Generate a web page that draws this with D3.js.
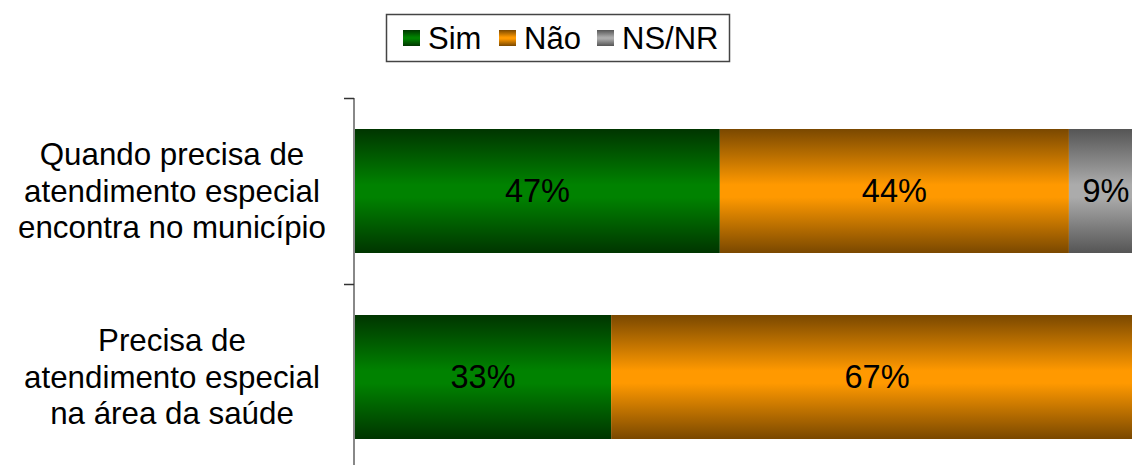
<!DOCTYPE html>
<html>
<head>
<meta charset="utf-8">
<script src="https://cdn.jsdelivr.net/npm/d3@7"></script>
<style>
  html, body { margin: 0; padding: 0; background: #fff; overflow: hidden; }
  svg { display: block; font-family: "Liberation Sans", Arial, sans-serif; }
</style>
</head>
<body>
<svg id="chart" width="1132" height="465"></svg>
<script>
// ---- data ----
const categories = [
  ["Quando precisa de", "atendimento especial", "encontra no município"],
  ["Precisa de", "atendimento especial", "na área da saúde"]
];
const seriesNames = ["Sim", "Não", "NS/NR"];
const simValues  = [46.3, 32.5];
const naoValues  = [44.3, 67.5];
const nsnrValues = [9.4, 0];
const simLabels  = ["47%", "33%"];
const naoLabels  = ["44%", "67%"];
const nsnrLabels = ["9%", ""];

// ---- build ----
const svg = d3.select("#chart");
const colors = {
  "Sim":   { edge: "#003500", mid: "#008200" },
  "Não":   { edge: "#7a4800", mid: "#ff9900" },
  "NS/NR": { edge: "#555555", mid: "#ababab" }
};
const defs = svg.append("defs");
seriesNames.forEach((s, i) => {
  const g = defs.append("linearGradient")
    .attr("id", "grad" + i).attr("x1", 0).attr("y1", 0).attr("x2", 0).attr("y2", 1);
  g.append("stop").attr("offset", "0%").attr("stop-color", colors[s].edge);
  g.append("stop").attr("offset", "45%").attr("stop-color", colors[s].mid);
  g.append("stop").attr("offset", "55%").attr("stop-color", colors[s].mid);
  g.append("stop").attr("offset", "100%").attr("stop-color", colors[s].edge);
});

const x = d3.scaleLinear().domain([0, 100]).range([355, 1143]);
const y = d3.scaleBand().domain(d3.range(categories.length)).range([98, 470]).padding(0);
const bw = y.bandwidth();
const barH = bw * 2 / 3;

const rows = categories.map((c, i) => {
  const vals = [simValues[i], naoValues[i], nsnrValues[i]];
  const labs = [simLabels[i], naoLabels[i], nsnrLabels[i]];
  let acc = 0;
  return vals.map((v, j) => {
    const seg = { row: i, s: j, x0: acc, x1: acc + v, label: labs[j] };
    acc += v;
    return seg;
  }).filter(d => d.x1 > d.x0);
});

const segs = rows.flat();
svg.append("g").selectAll("rect").data(segs).join("rect")
  .attr("x", d => x(d.x0))
  .attr("width", d => x(d.x1) - x(d.x0))
  .attr("y", d => y(d.row) + (bw - barH) / 2)
  .attr("height", barH)
  .attr("fill", d => `url(#grad${d.s})`);

svg.append("g").selectAll("text").data(segs).join("text")
  .attr("x", d => (x(d.x0) + x(d.x1)) / 2)
  .attr("y", d => y(d.row) + bw / 2)
  .attr("dy", "0.35em")
  .attr("text-anchor", "middle")
  .attr("font-size", 32.5)
  .attr("fill", "#000")
  .text(d => d.label);

// axis
const ax = svg.append("g");
ax.append("line").attr("x1", 354).attr("x2", 354).attr("y1", 98).attr("y2", 470)
  .attr("stroke", "#888").attr("stroke-width", 2);
const tickYs = d3.range(categories.length).map(i => y(i));
ax.selectAll("line.tick").data(tickYs).join("line").attr("class", "tick")
  .attr("x1", 344).attr("x2", 354).attr("y1", d => d + 0.5).attr("y2", d => d + 0.5)
  .attr("stroke", "#333").attr("stroke-width", 1.5);

// category labels
const lineH = 36.5;
const cl = svg.append("g");
categories.forEach((lines, i) => {
  const cy = y(i) + bw / 2;
  const t = cl.append("text").attr("text-anchor", "middle").attr("font-size", 31.3).attr("fill", "#000");
  lines.forEach((ln, k) => {
    t.append("tspan").attr("x", 172)
      .attr("y", cy + (k - (lines.length - 1) / 2) * lineH)
      .attr("dy", "0.35em").text(ln);
  });
});

// legend
const lg = svg.append("g");
lg.append("rect").attr("x", 386.5).attr("y", 14.5).attr("width", 343).attr("height", 47)
  .attr("fill", "#fff").attr("stroke", "#444").attr("stroke-width", 1.5);
const legendX = [403, 499, 597];
seriesNames.forEach((s, i) => {
  lg.append("rect").attr("x", legendX[i]).attr("y", 30).attr("width", 17).attr("height", 16)
    .attr("fill", `url(#grad${i})`);
  lg.append("text").attr("x", legendX[i] + 25).attr("y", 38).attr("dy", "0.35em")
    .attr("font-size", 31).attr("fill", "#000").text(s);
});
</script>
</body>
</html>
